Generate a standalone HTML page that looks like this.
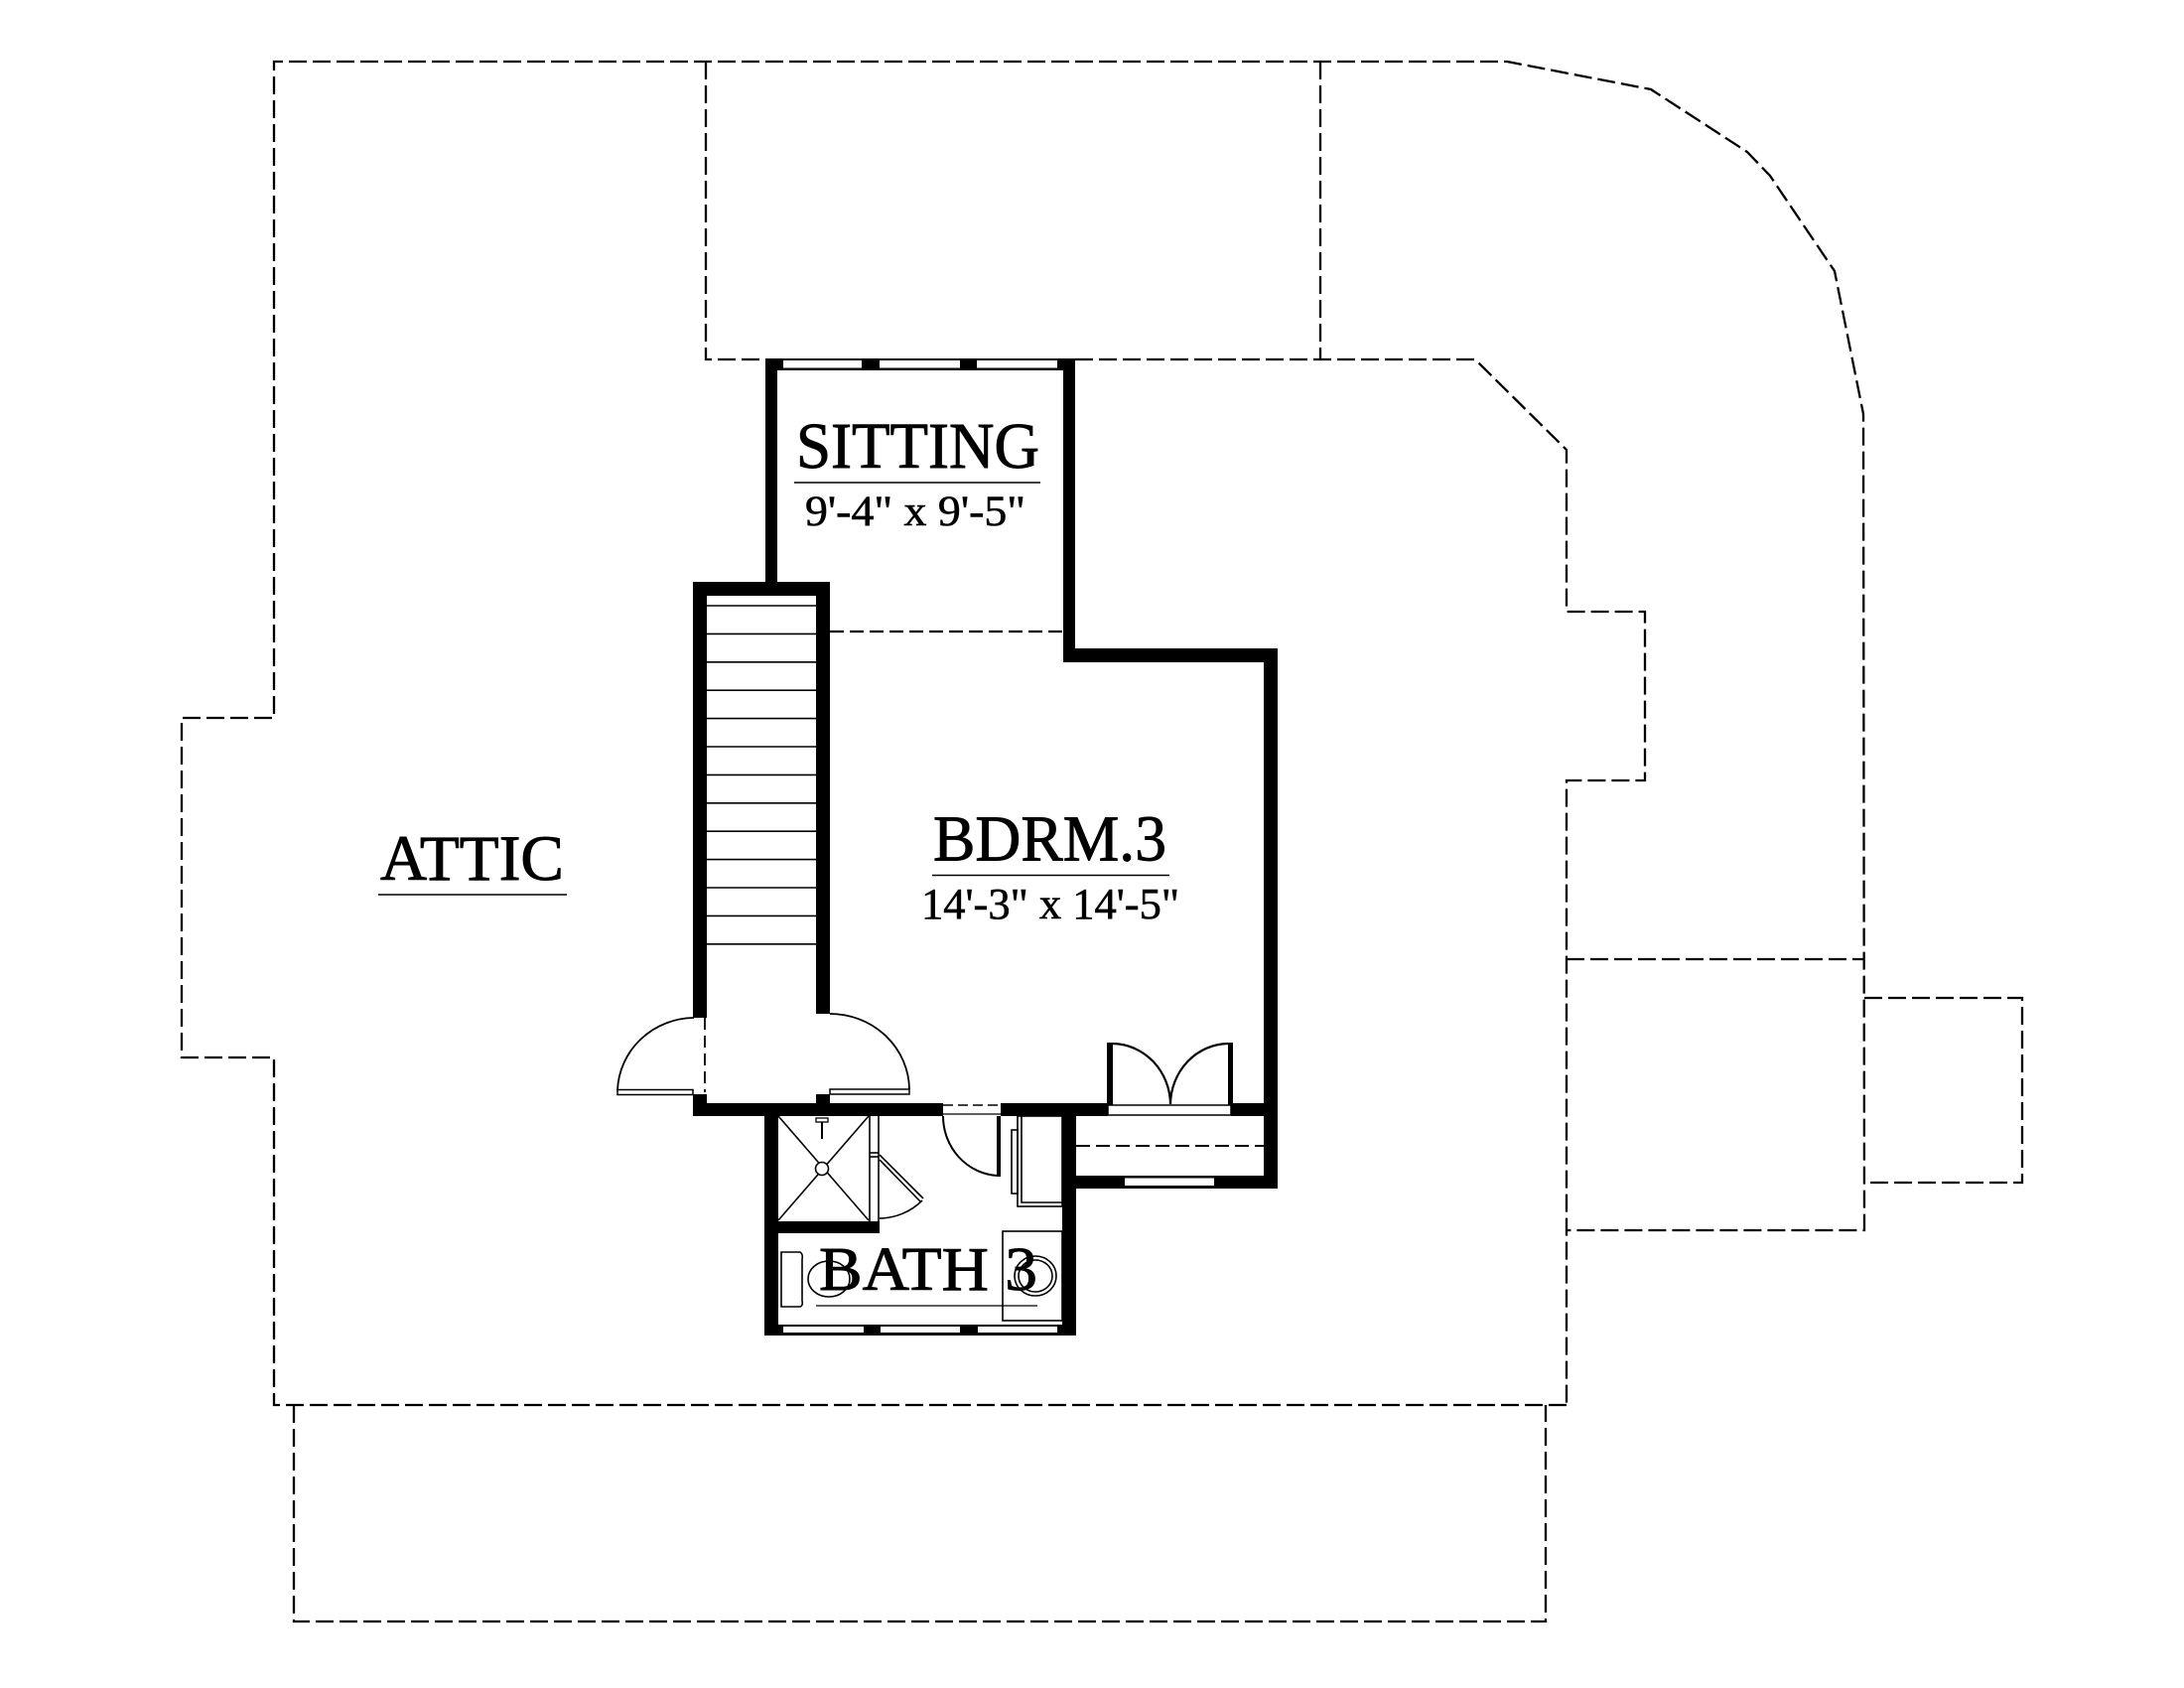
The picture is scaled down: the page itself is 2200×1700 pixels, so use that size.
<!DOCTYPE html>
<html>
<head>
<meta charset="utf-8">
<style>
html,body{margin:0;padding:0;background:#fff;}
svg{display:block;}
text{font-family:"Liberation Serif","Times New Roman",serif;fill:#000;}
</style>
</head>
<body>
<svg width="2200" height="1700" viewBox="0 0 2200 1700" xmlns="http://www.w3.org/2000/svg">
<rect x="0" y="0" width="2200" height="1700" fill="#fff"/>

<!-- dashed outlines -->
<g fill="none" stroke="#000" stroke-width="2.3" stroke-dasharray="18 6">
  <path d="M1578 1415 L276 1415 L276 1065 L183 1065 L183 723 L276 723 L276 62 L1518 62 L1663 90 L1760 153 L1783 177 L1848 273 L1877 417 L1878 1239 L1578 1239"/>
  <path d="M711 62 L711 362 L771 362"/>
  <path d="M1083 362 L1486 362 L1578 453 L1578 616 L1657 616 L1657 786 L1578 786 L1578 1415"/>
  <path d="M1330 62 L1330 362"/>
  <path d="M1578 966 L1878 966"/>
  <path d="M1878 1005 L2037 1005 L2037 1191 L1878 1191"/>
  <path d="M296 1415 L296 1633 L1557 1633 L1557 1415"/>
  <path d="M836 636 L1071 636" stroke-dasharray="14 6"/>
  <path d="M1084 1154 L1273 1154" stroke-width="2" stroke-dasharray="14 6"/>
  <path d="M710 1025 L710 1100" stroke-width="1.8" stroke-dasharray="12 6"/>
  <path d="M950 1113 L1008 1113" stroke-width="1.5" stroke-dasharray="10 5"/>
</g>

<!-- walls -->
<g fill="#000">
  <rect x="771" y="361" width="12" height="239"/>
  <rect x="771" y="361" width="312" height="12"/>
  <rect x="1071" y="361" width="12" height="306"/>
  <rect x="1071" y="653" width="216" height="14"/>
  <rect x="1273" y="653" width="14" height="544"/>
  <rect x="698" y="586" width="138" height="14"/>
  <rect x="698" y="586" width="14" height="439"/>
  <rect x="822" y="586" width="14" height="435"/>
  <rect x="698" y="1102" width="14" height="22"/>
  <rect x="822" y="1102" width="14" height="22"/>
  <rect x="698" y="1111" width="252" height="13"/>
  <rect x="1008" y="1111" width="108" height="13"/>
  <rect x="1240" y="1111" width="47" height="13"/>
  <rect x="770" y="1111" width="14" height="234"/>
  <rect x="1070" y="1111" width="14" height="234"/>
  <rect x="770" y="1334" width="314" height="11"/>
  <rect x="1070" y="1184" width="217" height="13"/>
  <rect x="784" y="1230" width="102" height="12"/>
</g>

<!-- windows -->
<g fill="#fff">
  <rect x="789" y="363" width="79" height="7.5"/>
  <rect x="886" y="363" width="81" height="7.5"/>
  <rect x="984" y="363" width="81" height="7.5"/>
  <rect x="789" y="1336" width="81" height="6"/>
  <rect x="887" y="1336" width="80" height="6"/>
  <rect x="985" y="1336" width="80" height="6"/>
  <rect x="1133" y="1186.5" width="90" height="7.5"/>
</g>

<!-- stair treads -->
<g stroke="#000" stroke-width="1.6">
  <line x1="712" y1="610" x2="822" y2="610"/>
  <line x1="712" y1="638.4" x2="822" y2="638.4"/>
  <line x1="712" y1="666.8" x2="822" y2="666.8"/>
  <line x1="712" y1="695.2" x2="822" y2="695.2"/>
  <line x1="712" y1="723.6" x2="822" y2="723.6"/>
  <line x1="712" y1="752" x2="822" y2="752"/>
  <line x1="712" y1="780.4" x2="822" y2="780.4"/>
  <line x1="712" y1="808.8" x2="822" y2="808.8"/>
  <line x1="712" y1="837.2" x2="822" y2="837.2"/>
  <line x1="712" y1="865.6" x2="822" y2="865.6"/>
  <line x1="712" y1="894" x2="822" y2="894"/>
  <line x1="712" y1="922.4" x2="822" y2="922.4"/>
  <line x1="712" y1="950.8" x2="822" y2="950.8"/>
</g>

<!-- doors -->
<g fill="none" stroke="#000" stroke-width="1.8">
  <rect x="622" y="1097.5" width="76" height="5" fill="#fff" stroke-width="1.5"/>
  <path d="M622 1098 A78 76 0 0 1 699 1025"/>
  <rect x="836" y="1097" width="80" height="5" fill="#fff" stroke-width="1.5"/>
  <path d="M836 1021 A80 77 0 0 1 916 1097"/>
  <path d="M950 1124 A58 60 0 0 0 1005 1184" stroke-width="2"/>
  <line x1="950" y1="1122" x2="1008" y2="1122" stroke-width="1.2"/>
  <path d="M1121 1051 A59 62 0 0 1 1179 1112" stroke-width="2.2"/>
  <path d="M1237 1051 A59 62 0 0 0 1179 1112" stroke-width="2.2"/>
  <rect x="1116" y="1113" width="124" height="10" fill="#fff" stroke-width="1.5"/>
</g>
<g fill="#000">
  <rect x="1004" y="1124" width="4" height="61"/>
  <rect x="1115" y="1050" width="6" height="63"/>
  <rect x="1237" y="1050" width="5" height="63"/>
</g>

<!-- shower -->
<g fill="none" stroke="#000" stroke-width="1.6">
  <line x1="784" y1="1124" x2="875" y2="1229"/>
  <line x1="875" y1="1124" x2="784" y2="1229"/>
  <circle cx="828" cy="1177" r="6.5" fill="#fff"/>
  <line x1="828" y1="1126" x2="828" y2="1147" stroke-width="2"/>
  <rect x="822" y="1126" width="12" height="4" fill="#fff" stroke-width="1.3"/>
  <line x1="876" y1="1124" x2="876" y2="1230"/>
  <line x1="885" y1="1124" x2="885" y2="1230"/>
  <line x1="876" y1="1161" x2="885" y2="1161"/>
  <line x1="876" y1="1165" x2="885" y2="1165"/>
  <line x1="886" y1="1163" x2="930" y2="1207"/>
  <line x1="886" y1="1168" x2="927" y2="1210"/>
  <path d="M929 1209 A62 62 0 0 1 886 1227"/>
</g>

<!-- bath fixtures -->
<g fill="none" stroke="#000" stroke-width="1.6">
  <rect x="1025" y="1124" width="45" height="91"/>
  <polyline points="1029,1124 1029,1211 1070,1211"/>
  <rect x="1019" y="1138" width="6" height="64"/>
  <rect x="1010" y="1240" width="60" height="90"/>
  <ellipse cx="1043" cy="1285" rx="17" ry="16"/>
  <ellipse cx="1043" cy="1285" rx="21" ry="20"/>
  <path d="M787 1261 L806 1261 Q809 1263 808 1268 L808 1310 Q809 1315 806 1316 L787 1316 Z"/>
  <ellipse cx="835" cy="1288" rx="21" ry="18"/>
</g>

<!-- labels -->
<g stroke="#000" stroke-width="0.9">
<text x="383" y="886" font-size="65" textLength="185" lengthAdjust="spacingAndGlyphs">ATTIC</text>
<text x="802" y="471" font-size="66" textLength="245" lengthAdjust="spacingAndGlyphs">SITTING</text>
<text x="940" y="866.5" font-size="66" textLength="235" lengthAdjust="spacingAndGlyphs">BDRM.3</text>
<text x="825" y="1299" font-size="62" textLength="220" lengthAdjust="spacingAndGlyphs">BATH 3</text>
</g>
<g stroke="#000" stroke-width="0.6">
<text x="811" y="529" font-size="43" textLength="222" lengthAdjust="spacingAndGlyphs">9'-4" x 9'-5"</text>
<text x="928" y="925" font-size="44" textLength="260" lengthAdjust="spacingAndGlyphs">14'-3" x 14'-5"</text>
</g>
<line x1="381" y1="901" x2="571" y2="901" stroke="#000" stroke-width="1.5"/>
<line x1="800" y1="486" x2="1048" y2="486" stroke="#000" stroke-width="1.5"/>
<line x1="939" y1="881.5" x2="1178" y2="881.5" stroke="#000" stroke-width="1.5"/>
<line x1="822" y1="1315" x2="1045" y2="1315" stroke="#000" stroke-width="1.3"/>
</svg>
</body>
</html>
